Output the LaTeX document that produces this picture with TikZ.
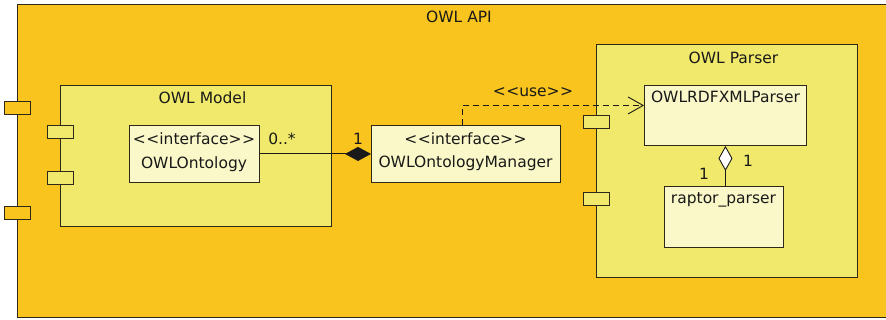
\documentclass[tikz,border=0pt]{standalone}
\usepackage{fontspec}
\setmainfont{DejaVu Sans}
\usetikzlibrary{arrows.meta}

\definecolor{apifill}{RGB}{249,196,29}
\definecolor{pkgfill}{RGB}{241,233,107}
\definecolor{clsfill}{RGB}{250,248,200}
\definecolor{edge}{RGB}{45,40,25}
\definecolor{ink}{RGB}{25,25,25}

\newcommand{\stereo}[1]{<\kern0.5pt<#1>\kern0.5pt>}

\tikzset{
	box/.style={draw=edge, line width=0.9pt, anchor=north west, inner sep=0},
	apibox/.style={box, fill=apifill},
	pkgbox/.style={box, fill=pkgfill},
	clsbox/.style={box, fill=clsfill},
	port/.style={draw=edge, line width=0.9pt, inner sep=0, minimum width=26pt, minimum height=13pt},
	txt/.style={font=\fontsize{15.5}{18}\selectfont, text=ink, inner sep=0, text height=11pt, text depth=0pt},
	link/.style={draw=ink, line width=0.9pt},
}

\begin{document}
\begin{tikzpicture}[x=1pt, y=-1pt]
	\useasboundingbox (0,0) rectangle (886,320);

	% the API frame
	\node[apibox, minimum width=875pt, minimum height=313pt] (api) at (17,4) {};
	\node[txt] (apititle) at (459,17) {OWL API};
	\node[port, fill=apifill] (apiportA) at (17,107.5) {};
	\node[port, fill=apifill] (apiportB) at (17,212.5) {};

	% OWL Model
	\node[pkgbox, minimum width=271pt, minimum height=141pt] (model) at (60,85) {};
	\node[txt] (modeltitle) at (202.5,98) {OWL Model};
	\node[port, fill=pkgfill] (modelportA) at (60.5,131.5) {};
	\node[port, fill=pkgfill] (modelportB) at (60.5,178) {};

	\node[clsbox, minimum width=130pt, minimum height=57pt] (onto) at (129,125) {};
	\node[txt] (ontostereo) at (194,139) {\stereo{interface}};
	\node[txt] (ontoname) at (194,163) {OWLOntology};

	% the manager
	\node[clsbox, minimum width=189pt, minimum height=57pt] (mgr) at (371,125) {};
	\node[txt] (mgrstereo) at (465.5,139) {\stereo{interface}};
	\node[txt] (mgrname) at (465.5,162) {OWLOntologyManager};

	% OWL Parser
	\node[pkgbox, minimum width=261pt, minimum height=233pt] (parser) at (596,44) {};
	\node[txt] (parsertitle) at (733.5,58) {OWL Parser};
	\node[port, fill=pkgfill] (parserportA) at (596,121.5) {};
	\node[port, fill=pkgfill] (parserportB) at (596,198.5) {};

	\node[clsbox, minimum width=162pt, minimum height=60pt] (rdf) at (644,85) {};
	\node[txt] (rdfname) at (725.5,97) {OWLRDFXMLParser};
	\node[clsbox, minimum width=119pt, minimum height=61pt] (raptor) at (664,186) {};
	\node[txt] (raptorname) at (723.5,198) {raptor\_parser};

	% composition
	\draw[link, {Diamond[length=26pt, width=14pt]}-] (mgr.west) -- (onto.east);
	\node[txt] (ontomult) at (282,139) {0..*};
	\node[txt] (mgrmult) at (358,139) {1};

	% use dependency
	\draw[link, dash pattern=on 6pt off 4pt, -{Straight Barb[length=15pt, width=17pt]}]
		([xshift=-3.5pt]mgr.north) |- ([yshift=10pt]rdf.west);
	\node[txt] (usestereo) at (533,91) {\stereo{use}};

	% aggregation
	\draw[link, {Diamond[open, fill=white, length=25pt, width=14pt]}-] (rdf.south) -- (rdf.south |- raptor.north);
	\node[txt] (rdfmult) at (748,161) {1};
	\node[txt] (raptormult) at (704,174) {1};
\end{tikzpicture}
\end{document}
